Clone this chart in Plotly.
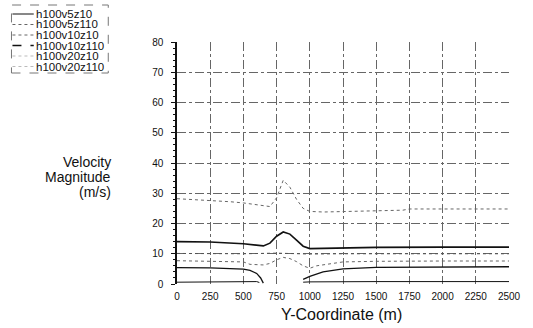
import plotly.graph_objects as go

# ---- data ----
names = ["h100v5z10", "h100v5z110", "h100v10z10", "h100v10z110", "h100v20z10", "h100v20z110"]

x_v5z10 = [0, 250, 500, 600, 620, None, 950, 1000, 1500, 2000, 2500]
y_v5z10 = [0.6, 0.6, 0.7, 0.8, 0.5, None, 0.6, 0.7, 0.8, 0.8, 0.8]

x_v5z110 = [0, 250, 500, 750, 1000, 1250, 1500, 2000, 2500]
y_v5z110 = [10.1, 10.0, 10.0, 10.2, 9.9, 10.0, 10.0, 10.0, 10.0]

x_v10z10 = [0, 250, 500, 550, 600, 630, 650, None, 950, 1000, 1100, 1250, 1500, 2000, 2500]
y_v10z10 = [5.4, 5.3, 4.9, 4.5, 3.5, 2.0, 0.3, None, 1.5, 2.5, 4.0, 5.0, 5.5, 5.7, 5.7]

x_v10z110 = [0, 250, 500, 600, 650, 700, 750, 800, 850, 900, 950, 1000, 1100, 1250, 1500, 2000, 2500]
y_v10z110 = [14.0, 13.9, 13.3, 12.8, 12.6, 13.5, 15.8, 17.2, 16.5, 14.5, 12.5, 11.7, 11.8, 12.0, 12.1, 12.2, 12.2]

x_v20z10 = [0, 250, 500, 550, 650, 700, 750, 800, 850, 900, 950, 1000, 1050, 1250, 1500, 2000, 2500]
y_v20z10 = [7.7, 7.6, 7.3, 6.5, 6.3, 6.8, 8.0, 8.8, 8.4, 7.4, 6.0, 5.2, 6.0, 7.3, 7.5, 7.6, 7.6]

x_v20z110 = [0, 100, 250, 400, 500, 600, 700, 750, 800, 850, 900, 950, 1000, 1100, 1250, 1500, 1700, 1750, 2000, 2250, 2500]
y_v20z110 = [28.2, 28.0, 27.6, 27.2, 26.8, 26.2, 25.6, 28.5, 34.3, 32.0, 28.0, 25.0, 24.0, 23.8, 24.0, 24.3, 24.4, 24.8, 24.8, 24.8, 24.8]

x_ticks = [0, 250, 500, 750, 1000, 1250, 1500, 1750, 2000, 2250, 2500]
y_ticks = [0, 10, 20, 30, 40, 50, 60, 70, 80]

y_title_lines = ["Velocity", "Magnitude", "(m/s)"]
x_title = "Y-Coordinate (m)"

xs = [x_v5z10, x_v5z110, x_v10z10, x_v10z110, x_v20z10, x_v20z110]
ys = [y_v5z10, y_v5z110, y_v10z10, y_v10z110, y_v20z10, y_v20z110]
styles = [
    dict(color="#111111", width=1, dash="solid"),
    dict(color="#555555", width=1, dash="dot"),
    dict(color="#111111", width=1.3, dash="solid"),
    dict(color="#111111", width=1.6, dash="solid"),
    dict(color="#666666", width=1, dash="dot"),
    dict(color="#666666", width=1, dash="dot"),
]
legend_styles = [
    dict(color="#111111", width=1, dash="solid"),
    dict(color="#666666", width=1, dash="dot"),
    dict(color="#666666", width=1, dash="dot"),
    dict(color="#111111", width=1.3, dash="dash"),
    dict(color="#bbbbbb", width=1, dash="dot"),
    dict(color="#bbbbbb", width=1, dash="dot"),
]

fig = go.Figure()
for n, x, y, s in zip(names, xs, ys, styles):
    fig.add_trace(go.Scatter(x=x, y=y, mode="lines", name=n, line=s,
                             connectgaps=False, showlegend=False))

W, H = 533, 328
L, R, T, B = 177, 13, 42, 44
pw, ph = W - L - R, H - T - B

def px(xpix):
    return (xpix - L) / pw

def py(ypix):
    return (H - B - ypix) / ph

# manual legend (compact, as in the reference)
shapes = [dict(type="rect", xref="paper", yref="paper",
               x0=px(6), x1=px(106), y0=py(73), y1=py(5),
               line=dict(color="#777777", width=1, dash="dash"))]
annotations = []
row_y = [14, 24.5, 35, 45.5, 56, 66.5]
for n, s, ry in zip(names, legend_styles, row_y):
    shapes.append(dict(type="line", xref="paper", yref="paper",
                       x0=px(7), x1=px(29), y0=py(ry), y1=py(ry),
                       line=s))
    annotations.append(dict(text=n, xref="paper", yref="paper",
                            x=px(29), y=py(ry), xanchor="left", yanchor="middle",
                            showarrow=False, font=dict(family="Arial", size=11.5, color="#111111")))

for t, ry in zip(y_title_lines, [162, 177, 192]):
    annotations.append(dict(text=t, xref="paper", yref="paper",
                            x=px(111), y=py(ry), xanchor="right", yanchor="middle",
                            showarrow=False, font=dict(family="Arial", size=14, color="#111111")))
annotations.append(dict(text=x_title, xref="paper", yref="paper",
                        x=px(347), y=py(314), xanchor="center", yanchor="middle",
                        showarrow=False, font=dict(family="Arial", size=16, color="#111111")))

fig.update_layout(
    width=W, height=H,
    margin=dict(l=L, r=R, t=T, b=B),
    paper_bgcolor="white", plot_bgcolor="white",
    showlegend=False,
    shapes=shapes, annotations=annotations,
    font=dict(family="Arial", size=10, color="#111111"),
    xaxis=dict(range=[0, 2500], tickvals=x_ticks, showgrid=True,
               gridcolor="#666666", griddash="dashdot", gridwidth=1,
               zeroline=False, showline=False, ticks="",
               ticklabelstandoff=5,
               tickfont=dict(size=10)),
    yaxis=dict(range=[0, 80], tickvals=y_ticks, showgrid=True,
               gridcolor="#666666", griddash="dashdot", gridwidth=1,
               zeroline=False, showline=True, linecolor="#111111", linewidth=1.5,
               ticks="outside", ticklen=4, tickcolor="#111111",
               ticklabelstandoff=6,
               minor=dict(ticks="outside", ticklen=2, dtick=2, tickcolor="#111111",
                          showgrid=False),
               tickfont=dict(size=10)),
)

fig.write_html("out.html", config={"displayModeBar": False},
               post_script="document.body.style.margin='0px';document.body.style.padding='0px';")
